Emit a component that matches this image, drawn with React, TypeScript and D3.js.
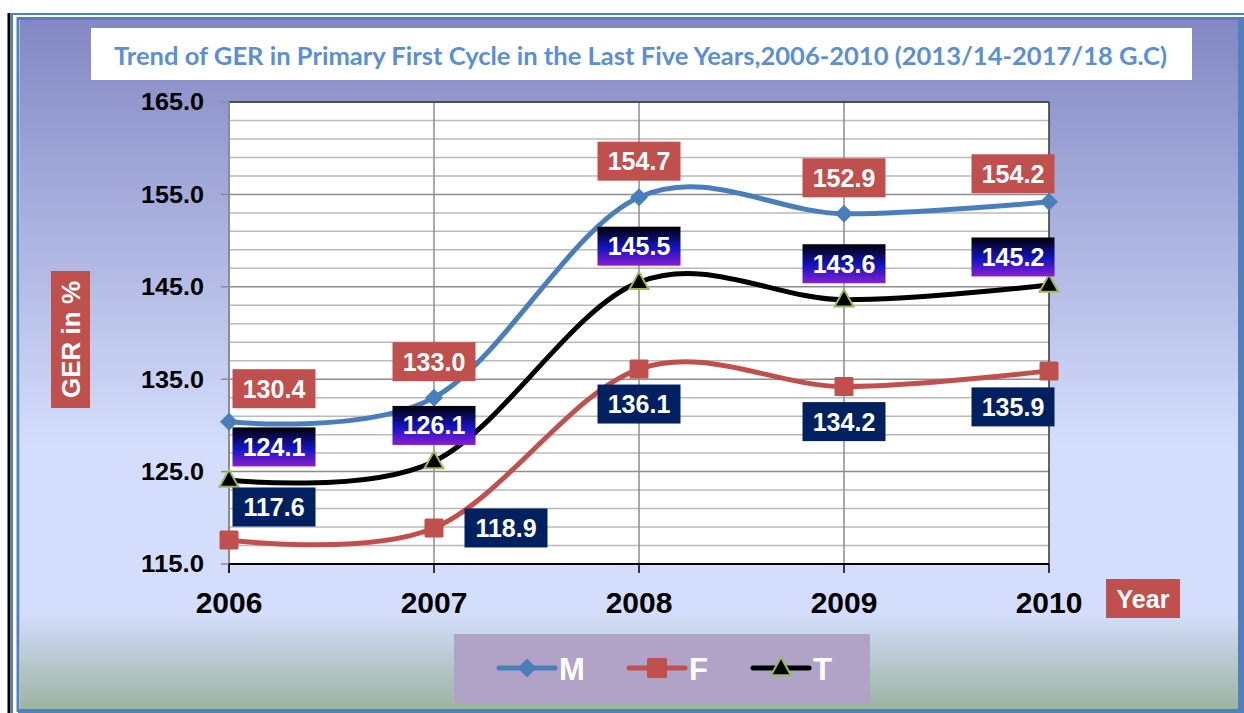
import React from "react";
import * as d3 from "d3";

const years = ["2006", "2007", "2008", "2009", "2010"];
const male = [130.4, 133.0, 154.7, 152.9, 154.2];
const female = [117.6, 118.9, 136.1, 134.2, 135.9];
const total = [124.1, 126.1, 145.5, 143.6, 145.2];
const yTicks = [115, 125, 135, 145, 155, 165];

// where each value label sits relative to its point
const malePlace = ["ar", "a", "a", "a", "al"];
const femalePlace = ["ar", "r", "b", "b", "bl"];
const totalPlace = ["ar", "a", "a", "a", "al"];

const W = 1244;
const H = 713;
const plot = { left: 229, right: 1049, top: 102, bottom: 564 };

const offsets: Record<string, [number, number]> = {
  a: [0, -36],
  b: [0, 35],
  ar: [45, -33],
  al: [-36, -28],
  r: [72, 0],
  bl: [-36, 36],
};

const font = "'Liberation Sans', Arial, sans-serif";

const App = () => {
  const x = d3.scalePoint<string>().domain(years).range([plot.left, plot.right]);
  const y = d3.scaleLinear().domain([115, 165]).range([plot.bottom, plot.top]);

  const line = d3
    .line<number>()
    .x((_, i) => x(years[i])!)
    .y((d) => y(d))
    .curve(d3.curveCardinal.tension(0));

  const grid = d3.range(115, 165.01, 2);

  const series = [
    { key: "M", values: male, color: "#4A7EBB", place: malePlace, box: "#C0504D" },
    { key: "F", values: female, color: "#C0504D", place: femalePlace, box: "#002060" },
    { key: "T", values: total, color: "#000000", place: totalPlace, box: "url(#tLabel)" },
  ];

  const marker = (key: string, cx: number, cy: number, k = 1) => {
    if (key === "M") {
      const r = 9 * k;
      return (
        <path
          d={`M${cx},${cy - r}L${cx + r},${cy}L${cx},${cy + r}L${cx - r},${cy}Z`}
          fill="#4A7EBB"
        />
      );
    }
    if (key === "F") {
      const s = 19 * k;
      return <rect x={cx - s / 2} y={cy - s / 2} width={s} height={s} rx={1.5} fill="#C0504D" />;
    }
    const h = 17 * k;
    const w = 19 * k;
    return (
      <path
        d={`M${cx},${cy - h * 0.6}L${cx + w / 2},${cy + h * 0.4}L${cx - w / 2},${cy + h * 0.4}Z`}
        fill="#000"
        stroke="#9BBB59"
        strokeWidth={2}
        strokeLinejoin="miter"
      />
    );
  };

  return (
    <svg
      width={W}
      height={H}
      style={{ position: "absolute", left: 0, top: 0, background: "#fff" }}
    >
      <defs>
        <linearGradient id="bg" x1="0" y1="0" x2="0" y2="1">
          <stop offset="0" stopColor="#8387C3" />
          <stop offset="0.62" stopColor="#D4DEFC" />
          <stop offset="0.86" stopColor="#D4DEFC" />
          <stop offset="1" stopColor="#9CB2A0" />
        </linearGradient>
        <linearGradient id="tLabel" x1="0" y1="0" x2="0" y2="1">
          <stop offset="0" stopColor="#000000" />
          <stop offset="0.55" stopColor="#1414C4" />
          <stop offset="1" stopColor="#8A1ECC" />
        </linearGradient>
      </defs>

      {/* frame */}
      <rect x={7.5} y={13} width={3} height={H - 13} fill="#000" />
      <rect x={12} y={14} width={W} height={H} fill="none" stroke="#4F81BD" strokeWidth={2} />
      <rect x={18} y={18.5} width={W} height={692} fill="none" stroke="#4F81BD" strokeWidth={3} />
      <rect x={20} y={20} width={1219} height={690} fill="url(#bg)" />
      <rect x={1238} y={20} width={6} height={693} fill="#4F81BD" />
      <rect x={18} y={709} width={1226} height={4} fill="#4F81BD" />

      {/* title */}
      <rect x={91} y={28} width={1101} height={52} fill="#fff" />
      <text
        x={640.5}
        y={65}
        textAnchor="middle"
        fontFamily="Lato, 'Open Sans', sans-serif"
        fontWeight="bold"
        fontSize={24}
        fill="#5A8FD6"
        textLength={1053}
        lengthAdjust="spacingAndGlyphs"
      >
        Trend of GER in Primary First Cycle in the Last Five Years,2006-2010 (2013/14-2017/18 G.C)
      </text>

      {/* plot area */}
      <rect
        x={plot.left}
        y={plot.top}
        width={plot.right - plot.left}
        height={plot.bottom - plot.top}
        fill="#fff"
      />
      {grid.map((v) => (
        <line
          key={v}
          x1={plot.left}
          x2={plot.right}
          y1={y(v)}
          y2={y(v)}
          stroke={(v - 115) % 10 === 0 ? "#8C8C8C" : "#BABABA"}
          strokeWidth={1.5}
        />
      ))}
      {years.slice(1, -1).map((yr) => (
        <line
          key={yr}
          x1={x(yr)}
          x2={x(yr)}
          y1={plot.top}
          y2={plot.bottom}
          stroke="#8C8C8C"
          strokeWidth={1.5}
        />
      ))}
      <line x1={plot.left} x2={plot.right} y1={plot.top} y2={plot.top} stroke="#333" strokeWidth={1.5} />
      <line x1={plot.right} x2={plot.right} y1={plot.top} y2={plot.bottom} stroke="#333" strokeWidth={1.5} />
      <line x1={plot.left} x2={plot.left} y1={plot.top} y2={plot.bottom + 9} stroke="#8C8C8C" strokeWidth={2} />

      {/* y axis */}
      {yTicks.map((t) => (
        <g key={t}>
          <line x1={plot.left - 8} x2={plot.left} y1={y(t)} y2={y(t)} stroke="#8C8C8C" strokeWidth={1.5} />
          <text
            x={204}
            y={y(t)}
            dy="0.36em"
            textAnchor="end"
            fontFamily={font}
            fontWeight="bold"
            fontSize={23.5}
            fill="#000"
            textLength={63}
            lengthAdjust="spacingAndGlyphs"
          >
            {d3.format(".1f")(t)}
          </text>
        </g>
      ))}

      {/* x axis */}
      <line x1={plot.left} x2={plot.right} y1={plot.bottom} y2={plot.bottom} stroke="#000" strokeWidth={2} />
      {years.map((yr) => (
        <g key={yr}>
          <line x1={x(yr)} x2={x(yr)} y1={plot.bottom} y2={plot.bottom + 9} stroke="#000" strokeWidth={1.5} />
          <text
            x={x(yr)}
            y={613}
            textAnchor="middle"
            fontFamily={font}
            fontWeight="bold"
            fontSize={30}
            fill="#000"
          >
            {yr}
          </text>
        </g>
      ))}

      {/* axis titles */}
      <rect x={1106} y={579} width={74} height={39} fill="#C0504D" />
      <text
        x={1143}
        y={598.5}
        dy="0.36em"
        textAnchor="middle"
        fontFamily={font}
        fontWeight="bold"
        fontSize={25}
        fill="#fff"
      >
        Year
      </text>
      <rect x={51} y={271} width={39} height={137} fill="#C0504D" />
      <text
        transform="translate(70.5,339.5) rotate(-90)"
        dy="0.36em"
        textAnchor="middle"
        fontFamily={font}
        fontWeight="bold"
        fontSize={26}
        fill="#fff"
      >
        GER in %
      </text>

      {/* lines */}
      {series.map((s) => (
        <path
          key={s.key}
          d={line(s.values)!}
          fill="none"
          stroke={s.color}
          strokeWidth={5}
          strokeLinecap="round"
        />
      ))}
      {series.map((s) =>
        s.values.map((v, i) => <g key={s.key + i}>{marker(s.key, x(years[i])!, y(v))}</g>)
      )}

      {/* value labels */}
      {series.map((s) =>
        s.values.map((v, i) => {
          const [dx, dy] = offsets[s.place[i]];
          const cx = x(years[i])! + dx;
          const cy = y(v) + dy;
          return (
            <g key={"l" + s.key + i}>
              <rect x={cx - 41.5} y={cy - 19.5} width={83} height={39} fill={s.box} />
              <text
                x={cx}
                y={cy}
                dy="0.36em"
                textAnchor="middle"
                fontFamily={font}
                fontWeight="bold"
                fontSize={25}
                fill="#fff"
              >
                {d3.format(".1f")(v)}
              </text>
            </g>
          );
        })
      )}

      {/* legend */}
      <rect x={454} y={634} width={416} height={69} fill="#B1A2C8" />
      {series.map((s, i) => {
        const x0 = [499, 629, 753][i];
        return (
          <g key={"lg" + s.key}>
            <line
              x1={x0}
              x2={x0 + 56}
              y1={668}
              y2={668}
              stroke={s.color}
              strokeWidth={5}
              strokeLinecap="round"
            />
            {marker(s.key, x0 + 28, 668, 1.05)}
            <text
              x={x0 + 60}
              y={680}
              fontFamily={font}
              fontWeight="bold"
              fontSize={31}
              fill="#fff"
            >
              {s.key}
            </text>
          </g>
        );
      })}
    </svg>
  );
};

export default App;
